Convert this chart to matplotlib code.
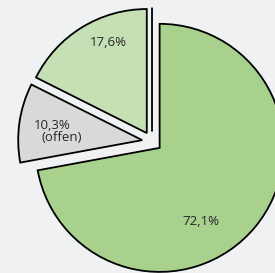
import matplotlib
matplotlib.use("Agg")
import matplotlib.pyplot as plt
import numpy as np

# slice shares in percent, clockwise from 12 o'clock (last one is an empty slice)
shares = [72.1, 10.3, 17.6, 0.0]
labels = ["72,1%", "10,3%", "17,6%", ""]
colors = ["#a9d18e", "#d9d9d9", "#c5e0b4", "#c5e0b4"]
note = "(offen)"  # second line under the grey slice

bg = "#eff1f3"
fig = plt.figure(figsize=(2.75, 2.73), dpi=100, facecolor=bg)
ax = fig.add_axes([0, 0, 1, 1])
ax.set_facecolor(bg)

wedges, _ = ax.pie(shares, colors=colors, startangle=90, counterclock=False,
                   explode=[0.08] * len(shares), radius=1.0,
                   wedgeprops=dict(edgecolor="black", linewidth=1.3))


def put(w, txt, ang, dist):
    cx, cy = w.center
    a = np.deg2rad(ang)
    ax.text(cx + dist * np.cos(a), cy + dist * np.sin(a), txt,
            ha="center", va="center", fontsize=9.5, family="Open Sans",
            color="#262626")


# label placement: (angle in degrees, distance as fraction of radius) per slice
label_pos = [(-61, 0.68), (170.6, 0.737), (113, 0.79)]
for w, lab, (ang, dist) in zip(wedges, labels, label_pos):
    put(w, lab, ang, dist)
put(wedges[1], note, 177.9, 0.651)

ax.set_xlim(-1.226, 0.992)
ax.set_ylim(-1.060, 1.141)
ax.set_aspect("auto")
ax.axis("off")

fig.savefig("out.png", dpi=100, facecolor=bg)
